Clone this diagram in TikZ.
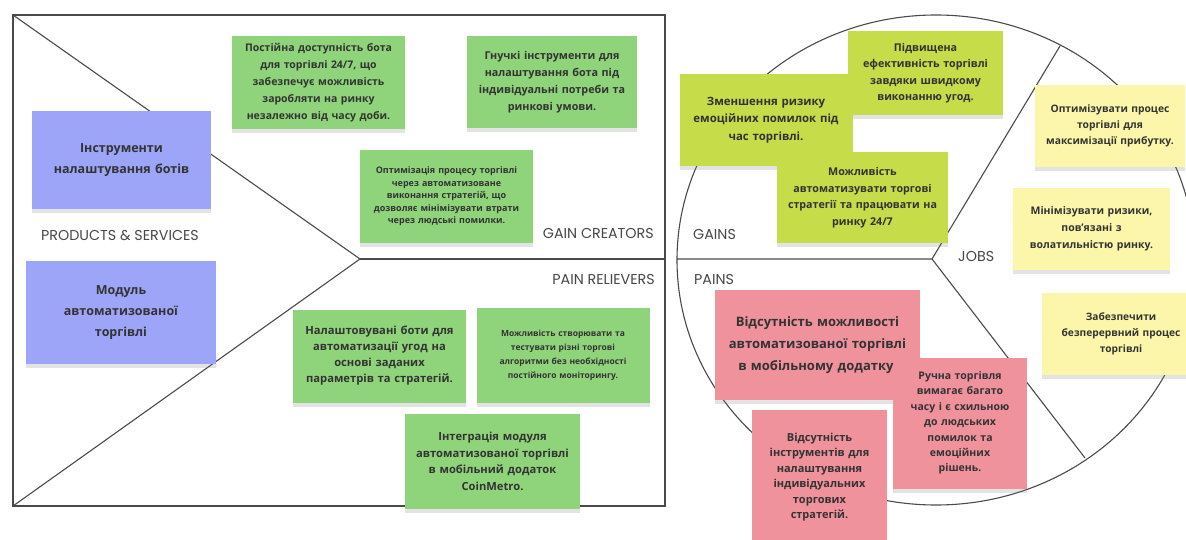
\documentclass[tikz,border=0pt]{standalone}
\usepackage{fontspec}
\setmainfont{Open Sans}
\newfontfamily\zonefont{Poppins}
\usetikzlibrary{shadows}
\definecolor{NoteBlue}{HTML}{9CA5F7}
\definecolor{NoteGreen}{HTML}{8FD47B}
\definecolor{NoteLime}{HTML}{C6DC48}
\definecolor{NoteYellow}{HTML}{FCF6AA}
\definecolor{NotePink}{HTML}{F0929C}
\definecolor{InkGray}{HTML}{333333}
\definecolor{ZoneGray}{HTML}{474747}
\definecolor{FrameGray}{HTML}{4A4A4A}
\newcommand{\fs}[2]{\bfseries\fontsize{#1}{#2}\selectfont}

\begin{document}
\begin{tikzpicture}[x=1pt,y=-1pt,
  sticky/.style={fill=#1,align=center,inner sep=4pt,text=InkGray,
                 font=\fs{10.5}{17},
                 drop shadow={shadow xshift=0pt,shadow yshift=-4pt,opacity=0.22}},
  zonelabel/.style={font=\zonefont\fontsize{14.3}{16}\selectfont,text=ZoneGray,inner sep=0pt},
  frame/.style={draw=FrameGray,line width=1.1pt}
]
\useasboundingbox (0,0) rectangle (1186,540);

% value map
\coordinate (tl) at (13,15);
\coordinate (bl) at (13,506);
\coordinate (apex) at (360,259);
\coordinate (split) at (665,259);
\draw[frame] (tl) rectangle (665,506);
\draw[frame] (tl) -- (apex) -- (bl);
\draw[frame] (apex) -- (split);

% customer profile
\coordinate (hub) at (932,259);
\coordinate (rimleft) at (677,259);
\coordinate (rimtop) at (1060,46);
\coordinate (rimbot) at (1085,458);
\draw[frame] (936,260) ellipse [x radius=259pt,y radius=245pt];
\draw[frame] (rimleft) -- (hub) -- (rimtop);
\draw[frame] (hub) -- (rimbot);

\node[zonelabel] (prodlbl) at (120,236) {PRODUCTS \& SERVICES};
\node[zonelabel,anchor=east] (gclbl) at (654,234) {GAIN CREATORS};
\node[zonelabel,anchor=east] (prlbl) at (655,280) {PAIN RELIEVERS};
\node[zonelabel,anchor=west] (gainslbl) at (693,235) {GAINS};
\node[zonelabel,anchor=west] (painslbl) at (694,280) {PAINS};
\node[zonelabel,anchor=west] (jobslbl) at (958,257) {JOBS};

% products & services
\node[sticky=NoteBlue,font=\fs{12.5}{21},text width=171pt,minimum height=98pt] (toolsnote) at (121.5,160)
  {Інструменти\\налаштування ботів};
\node[sticky=NoteBlue,font=\fs{12.5}{21},text width=182pt,minimum height=103pt] (modulenote) at (121,312.5)
  {Модуль\\автоматизованої\\торгівлі};

% gain creators
\node[sticky=NoteGreen,text width=165pt,minimum height=93pt] (uptime) at (318.5,82.5)
  {Постійна доступність бота\\для торгівлі 24/7, що\\забезпечує можливість\\заробляти на ринку\\незалежно від часу доби.};
\node[sticky=NoteGreen,font=\fs{10.8}{17},text width=162pt,minimum height=92pt] (flexible) at (552,82)
  {Гнучкі інструменти для\\налаштування бота під\\індивідуальні потреби та\\ринкові умови.};
\node[sticky=NoteGreen,font=\fs{9}{12.5},text width=165pt,minimum height=93pt] (optimise) at (446.5,196.5)
  {Оптимізація процесу торгівлі\\через автоматизоване\\виконання стратегій, що\\дозволяє мінімізувати втрати\\через людські помилки.};

% pain relievers
\node[sticky=NoteGreen,font=\fs{11.2}{16},text width=165pt,minimum height=93pt] (custombots) at (379.5,356)
  {Налаштовувані боти для\\автоматизації угод на\\основі заданих\\параметрів та стратегій.};
\node[sticky=NoteGreen,font=\fs{8.5}{14},text width=165pt,minimum height=95pt] (backtest) at (563,355.5)
  {Можливість створювати та\\тестувати різні торгові\\алгоритми без необхідності\\постійного моніторингу.};
\node[sticky=NoteGreen,font=\fs{11.2}{16.5},text width=167pt,minimum height=95pt] (integrate) at (492.5,461.5)
  {Інтеграція модуля\\автоматизованої торгівлі\\в мобільний додаток\\CoinMetro.};

% gains
\node[sticky=NoteLime,font=\fs{10.7}{16.5},text width=147pt,minimum height=84pt] (speed) at (925.5,73)
  {Підвищена\\ефективність торгівлі\\завдяки швидкому\\виконанню угод.};
\node[sticky=NoteLime,font=\fs{11.4}{17.5},text width=165pt,minimum height=92pt] (lessrisk) at (766,120)
  {Зменшення ризику\\емоційних помилок під\\час торгівлі.};
\node[sticky=NoteLime,font=\fs{10.7}{16.5},text width=163pt,minimum height=91pt] (automate) at (862.5,197.5)
  {Можливість\\автоматизувати торгові\\стратегії та працювати на\\ринку 24/7};

% jobs
\node[sticky=NoteYellow,font=\fs{10.3}{16},text width=142pt,minimum height=82pt] (maxprofit) at (1110,126)
  {Оптимізувати процес\\торгівлі для\\максимізації прибутку.};
\node[sticky=NoteYellow,text width=149pt,minimum height=82pt] (volatility) at (1091.5,229)
  {Мінімізувати ризики,\\пов'язані з\\волатильністю ринку.};
\node[sticky=NoteYellow,font=\fs{10.2}{16},text width=150pt,minimum height=82pt] (nonstop) at (1121,334)
  {Забезпечити\\безперервний процес\\торгівлі};

% pains
\node[sticky=NotePink,font=\fs{13}{22},text width=197pt,minimum height=110pt] (nomobile) at (817.5,345)
  {Відсутність можливості\\автоматизованої торгівлі\\в мобільному додатку.};
\node[sticky=NotePink,font=\fs{11}{15.5},text width=127pt,minimum height=135pt] (notools) at (819.5,477)
  {Відсутність\\інструментів для\\налаштування\\індивідуальних\\торгових\\стратегій.};
\node[sticky=NotePink,font=\fs{10.5}{15.4},text width=126pt,minimum height=131pt] (manual) at (960,423)
  {Ручна торгівля\\вимагає багато\\часу і є схильною\\до людських\\помилок та\\емоційних\\рішень.};
\end{tikzpicture}
\end{document}
